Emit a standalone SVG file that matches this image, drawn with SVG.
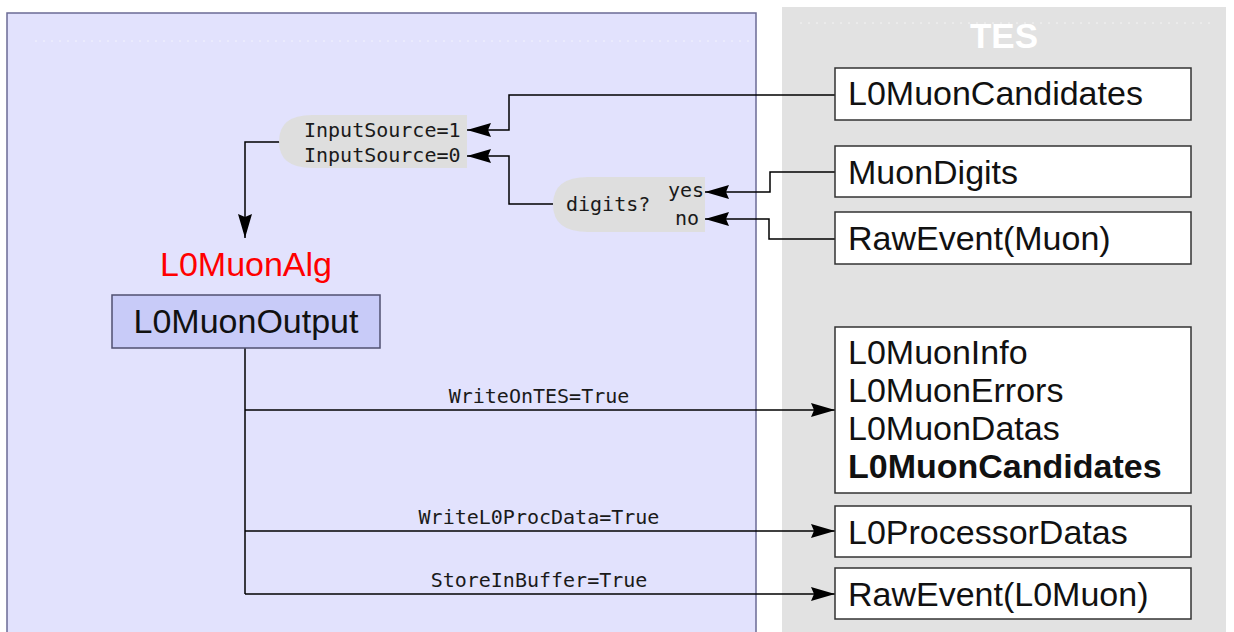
<svg xmlns="http://www.w3.org/2000/svg" width="1234" height="632" viewBox="0 0 1234 632">
<defs>
<style>
.sans{font-family:"Liberation Sans",Arial,sans-serif;font-size:34px;fill:#111}
.mono{font-family:"DejaVu Sans Mono",monospace;font-size:20px;fill:#1a1a1a}
.box{fill:#fff;stroke:#333;stroke-width:1.5}
.bubble{fill:#dedede}
.conn{fill:none;stroke:#000;stroke-width:1.5}
</style>
<marker id="arr" viewBox="0 0 24 14" refX="24" refY="7" markerWidth="24" markerHeight="14" markerUnits="userSpaceOnUse" orient="auto">
<path d="M0,0 L24,7 L0,14 L3,7 Z" fill="#000"/>
</marker>
</defs>
<rect width="1234" height="632" fill="#fff"/>
<g id="alg-panel">
<rect x="7" y="13" width="749" height="625" fill="#e2e2fd" stroke="#6b6b95" stroke-width="1.5"/>
<line x1="35" y1="41" x2="750" y2="41" stroke="#fff" stroke-width="1" stroke-dasharray="2,6" opacity="0.6"/>
</g>
<g id="tes-panel">
<rect x="782" y="7" width="444" height="630" fill="#e2e2e2"/>
<line x1="800" y1="23" x2="1215" y2="23" stroke="#fff" stroke-width="1" stroke-dasharray="2,6" opacity="0.6"/>
<text x="1004" y="48" text-anchor="middle" font-family="Liberation Sans,Arial,sans-serif" font-size="35" font-weight="bold" fill="#fff">TES</text>
</g>
<g id="connectors">
<path class="conn" d="M835,95 H509 V130 H467" marker-end="url(#arr)"/>
<path class="conn" d="M553,204 H509 V156 H467" marker-end="url(#arr)"/>
<path class="conn" d="M835,172 H770 V192 H705" marker-end="url(#arr)"/>
<path class="conn" d="M835,239 H769 V219 H705" marker-end="url(#arr)"/>
<path class="conn" d="M283,142 H245 V238" marker-end="url(#arr)"/>
<path class="conn" d="M245,348 V594"/>
<path class="conn" d="M245,410 H835" marker-end="url(#arr)"/>
<path class="conn" d="M245,531 H835" marker-end="url(#arr)"/>
<path class="conn" d="M245,594 H835" marker-end="url(#arr)"/>
<text class="mono" x="539" y="403" text-anchor="middle">WriteOnTES=True</text>
<text class="mono" x="539" y="524" text-anchor="middle">WriteL0ProcData=True</text>
<text class="mono" x="539" y="587" text-anchor="middle">StoreInBuffer=True</text>
</g>
<g id="inputsource">
<path class="bubble" d="M467,115 H312 Q279,115 279,141.5 Q279,168 312,168 H467 Z"/>
<text class="mono" x="304" y="137">InputSource=1</text>
<text class="mono" x="304" y="162">InputSource=0</text>
</g>
<g id="digits">
<path class="bubble" d="M705,177 H588 Q553,177 553,204.5 Q553,232 588,232 H705 Z"/>
<text class="mono" x="566" y="211">digits?</text>
<text class="mono" x="668" y="197">yes</text>
<text class="mono" x="675" y="225">no</text>
</g>
<g id="l0muonalg">
<text class="sans" x="246" y="276" text-anchor="middle" style="fill:#f00">L0MuonAlg</text>
</g>
<g id="l0muonoutput">
<rect x="112" y="295" width="268" height="53" fill="#c8cbf8" stroke="#505070" stroke-width="1.5"/>
<text class="sans" x="246" y="333" text-anchor="middle">L0MuonOutput</text>
</g>
<g id="tes-l0muoncandidates">
<rect class="box" x="835" y="68" width="356" height="52"/>
<text class="sans" x="848" y="105">L0MuonCandidates</text>
</g>
<g id="tes-muondigits">
<rect class="box" x="835" y="146" width="356" height="51"/>
<text class="sans" x="848" y="184">MuonDigits</text>
</g>
<g id="tes-raweventmuon">
<rect class="box" x="835" y="212" width="356" height="52"/>
<text class="sans" x="848" y="250">RawEvent(Muon)</text>
</g>
<g id="tes-outputs">
<rect class="box" x="835" y="327" width="356" height="166"/>
<text class="sans" x="848" y="364">L0MuonInfo</text>
<text class="sans" x="848" y="402">L0MuonErrors</text>
<text class="sans" x="848" y="440">L0MuonDatas</text>
<text class="sans" x="848" y="478" font-weight="bold">L0MuonCandidates</text>
</g>
<g id="tes-l0processordatas">
<rect class="box" x="835" y="506" width="356" height="51"/>
<text class="sans" x="848" y="544">L0ProcessorDatas</text>
</g>
<g id="tes-raweventl0muon">
<rect class="box" x="835" y="568" width="356" height="51"/>
<text class="sans" x="848" y="606">RawEvent(L0Muon)</text>
</g>
</svg>
